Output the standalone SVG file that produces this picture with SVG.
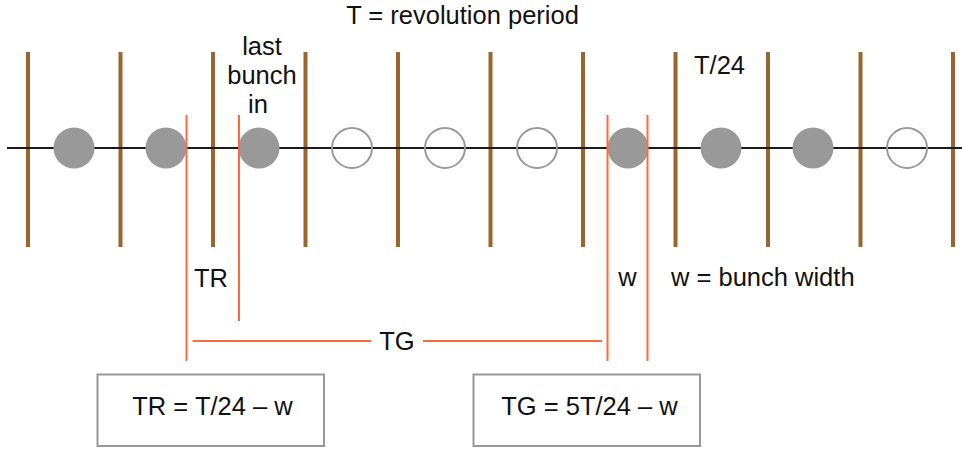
<svg xmlns="http://www.w3.org/2000/svg" width="962" height="449" viewBox="0 0 962 449">
<style>
text{font-family:"Liberation Sans",Arial,sans-serif;font-size:25.5px;fill:#111}
.slot{stroke:#9a6630;stroke-width:4}
.axis{stroke:#1a1a1a;stroke-width:2}
.full{fill:#999}
.empty{fill:none;stroke:#999;stroke-width:2}
.mark{stroke:#ff6a3c;stroke-width:2;fill:none}
.box{fill:#fff;stroke:#999;stroke-width:2}
</style>
<rect width="962" height="449" fill="#fff"/>
<g id="slots">
<line class="slot" x1="28" y1="52" x2="28" y2="247"/>
<line class="slot" x1="120.5" y1="52" x2="120.5" y2="247"/>
<line class="slot" x1="213" y1="52" x2="213" y2="247"/>
<line class="slot" x1="305.5" y1="52" x2="305.5" y2="247"/>
<line class="slot" x1="398" y1="52" x2="398" y2="247"/>
<line class="slot" x1="490.5" y1="52" x2="490.5" y2="247"/>
<line class="slot" x1="583" y1="52" x2="583" y2="247"/>
<line class="slot" x1="675.5" y1="52" x2="675.5" y2="247"/>
<line class="slot" x1="768" y1="52" x2="768" y2="247"/>
<line class="slot" x1="860.5" y1="52" x2="860.5" y2="247"/>
<line class="slot" x1="953" y1="52" x2="953" y2="247"/>
</g>
<g id="axis"><line class="axis" x1="7" y1="148" x2="962" y2="148"/></g>
<g id="bunches">
<circle id="b1" class="full" cx="74" cy="148" r="20.5"/>
<circle id="b2" class="full" cx="166" cy="148" r="20.5"/>
<circle id="b3" class="full" cx="259" cy="148" r="20.5"/>
<circle id="b4" class="empty" cx="352" cy="148" r="20"/>
<circle id="b5" class="empty" cx="445" cy="148" r="20"/>
<circle id="b6" class="empty" cx="537" cy="148" r="20"/>
<circle id="b7" class="full" cx="628" cy="148" r="20.5"/>
<circle id="b8" class="full" cx="721" cy="148" r="20.5"/>
<circle id="b9" class="full" cx="813" cy="148" r="20.5"/>
<circle id="b10" class="empty" cx="907" cy="148" r="20"/>
</g>
<g id="connectors">
<line class="mark" x1="186.5" y1="115" x2="186.5" y2="361"/>
<line class="mark" x1="239" y1="115" x2="239" y2="321"/>
<line class="mark" x1="607.5" y1="115" x2="607.5" y2="361"/>
<line class="mark" x1="647.5" y1="115" x2="647.5" y2="361"/>
<line class="mark" x1="192.5" y1="341" x2="371" y2="341"/>
<line class="mark" x1="423" y1="341" x2="602" y2="341"/>
</g>
<g id="labels">
<text x="462.5" y="24" text-anchor="middle">T = revolution period</text>
<text x="262" y="55" text-anchor="middle">last</text>
<text x="262" y="84" text-anchor="middle">bunch</text>
<text x="258" y="113" text-anchor="middle">in</text>
<text x="694" y="74">T/24</text>
<text x="194" y="287">TR</text>
<text x="397" y="350" text-anchor="middle">TG</text>
<text x="627.5" y="286" text-anchor="middle">w</text>
<text x="671" y="286">w = bunch width</text>
</g>
<g id="tr-box">
<rect class="box" x="97.5" y="374.5" width="226.5" height="71.5"/>
<text x="212.5" y="415" text-anchor="middle">TR = T/24 – w</text>
</g>
<g id="tg-box">
<rect class="box" x="473.5" y="374.5" width="226.5" height="71.5"/>
<text x="589.5" y="415" text-anchor="middle">TG = 5T/24 – w</text>
</g>
</svg>
